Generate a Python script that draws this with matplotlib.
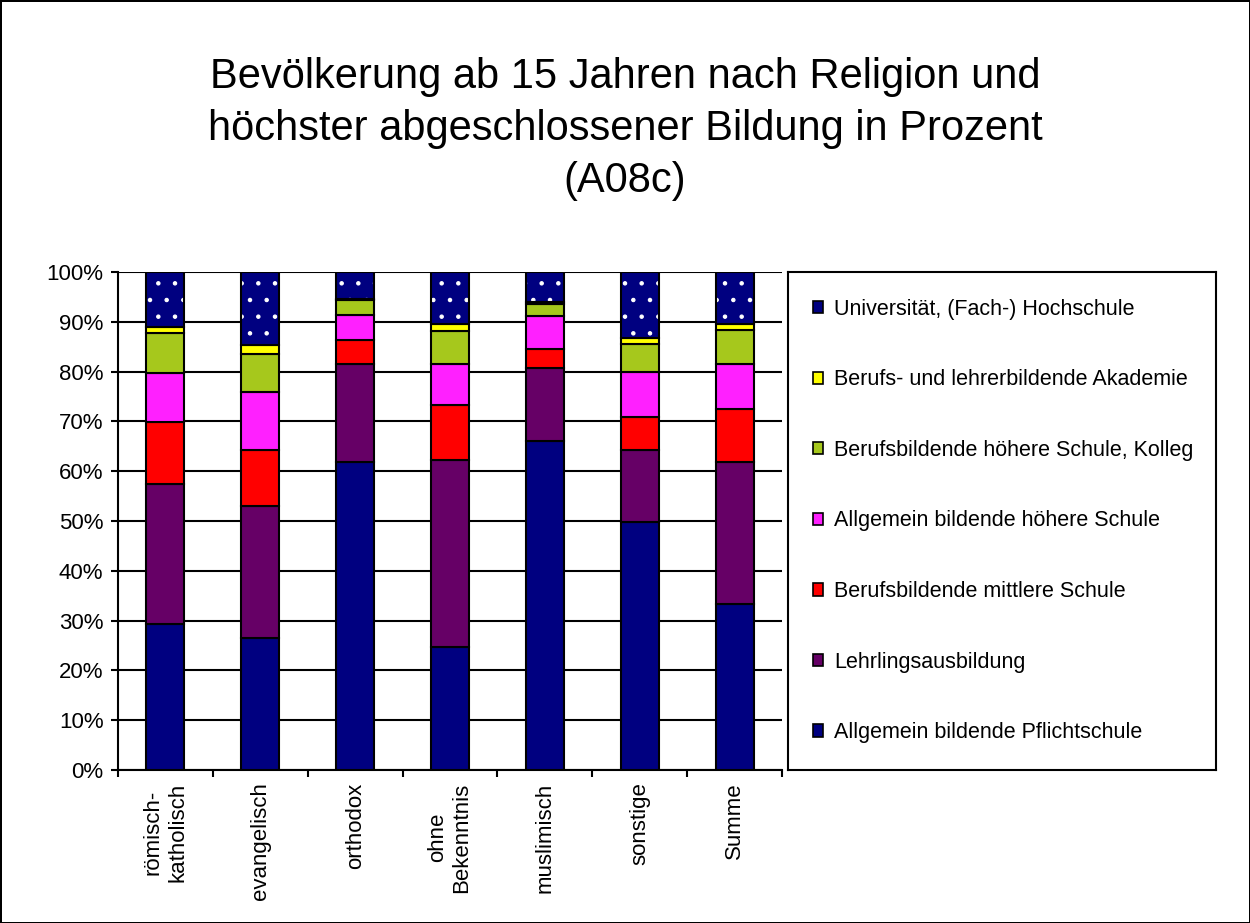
import numpy as np
import matplotlib
matplotlib.use("Agg")
from matplotlib import pyplot as plt
from matplotlib.patches import Patch

plt.rcParams['font.family'] = ['Liberation Sans', 'DejaVu Sans']
plt.rcParams['hatch.linewidth'] = 0.8

## Kategorien (Religion)
categories = ["römisch-\nkatholisch", "evangelisch", "orthodox", "ohne\nBekenntnis",
              "muslimisch", "sonstige", "Summe"]

## Anteile in Prozent (von unten nach oben gestapelt)
pflichtschule = [29.3, 26.5, 61.9, 24.6, 66.1, 49.8, 33.3]
lehre         = [28.2, 26.6, 19.6, 37.6, 14.7, 14.5, 28.6]
bms           = [12.4, 11.2,  4.9, 11.0,  3.7,  6.5, 10.5]
ahs           = [ 9.8, 11.6,  4.9,  8.3,  6.6,  9.1,  9.1]
bhs           = [ 8.0,  7.7,  3.0,  6.7,  2.4,  5.6,  6.8]
akademie      = [ 1.3,  1.8,  0.2,  1.4,  0.4,  1.3,  1.3]
universitaet  = [11.0, 14.6,  5.5, 10.4,  6.1, 13.2, 10.4]

series = [pflichtschule, lehre, bms, ahs, bhs, akademie, universitaet]
labels = ["Allgemein bildende Pflichtschule",
          "Lehrlingsausbildung",
          "Berufsbildende mittlere Schule",
          "Allgemein bildende höhere Schule",
          "Berufsbildende höhere Schule, Kolleg",
          "Berufs- und lehrerbildende Akademie",
          "Universität, (Fach-) Hochschule"]
colors = ["#000080", "#660066", "#FF0000", "#FF20FF", "#A6C81C", "#FFFF00", "#000080"]

W, H = 1250, 923
fig = plt.figure(figsize=(W / 100, H / 100), dpi=100)
fig.patch.set_facecolor("white")
fig.patch.set_edgecolor("black")
fig.patch.set_linewidth(2)

ax = fig.add_axes([118 / W, (H - 770) / H, (782 - 118) / W, (770 - 272) / H])

x = np.arange(len(categories))
bottom = np.zeros(len(categories))
for i, (vals, col) in enumerate(zip(series, colors)):
    vals = np.array(vals)
    # letztes Segment (Universitaet) mit Punktmuster
    if i == len(series) - 1:
        ax.bar(x, vals, 0.4, bottom=bottom, color=col, edgecolor="white",
               linewidth=0, hatch=".", zorder=3)
        ax.bar(x, vals, 0.4, bottom=bottom, fill=False, edgecolor="black",
               linewidth=1.5, zorder=4)
    else:
        ax.bar(x, vals, 0.4, bottom=bottom, color=col, edgecolor="black",
               linewidth=1.5, zorder=3)
    bottom = bottom + vals

ax.set_xlim(-0.5, len(categories) - 0.5)
ax.set_ylim(0, 100)
ax.set_yticks(np.arange(0, 101, 10))
ax.set_yticklabels(["%d%%" % v for v in range(0, 101, 10)], fontsize=16)
ax.yaxis.grid(True, color="black", linewidth=1.5, zorder=0)
ax.set_axisbelow(True)

ax.set_xticks(x)
ax.set_xticklabels(categories, rotation=90, fontsize=16, va="top", ha="center",
                   multialignment="center")
ax.tick_params(axis="x", length=0, pad=9)
ax.set_xticks(np.arange(-0.5, len(categories), 1), minor=True)
ax.tick_params(axis="x", which="minor", length=5, width=1.5, direction="out")
ax.tick_params(axis="y", length=5, width=1.5, direction="out", pad=5.5)

for s in ["top", "right"]:
    ax.spines[s].set_visible(False)
for s in ["left", "bottom"]:
    ax.spines[s].set_linewidth(1.5)

## Titel
fig.text(0.5, (H - 129) / H, "Bevölkerung ab 15 Jahren nach Religion und\n"
         "höchster abgeschlossener Bildung in Prozent\n(A08c)",
         ha="center", va="center", fontsize=30, linespacing=1.38)

## Legende
lax = fig.add_axes([788 / W, (H - 770) / H, (1216 - 788) / W, (770 - 272) / H])
lax.set_xticks([])
lax.set_yticks([])
for s in lax.spines.values():
    s.set_linewidth(1.5)
handles = [Patch(facecolor=c, edgecolor="black", linewidth=1.2) for c in colors]
lax.legend(handles[::-1], labels[::-1], loc="center left", frameon=False,
           fontsize=15.5, handlelength=0.5, handleheight=0.5, handletextpad=0.5,
           labelspacing=2.3, borderaxespad=0.74)

plt.savefig("out.png", dpi=100)
